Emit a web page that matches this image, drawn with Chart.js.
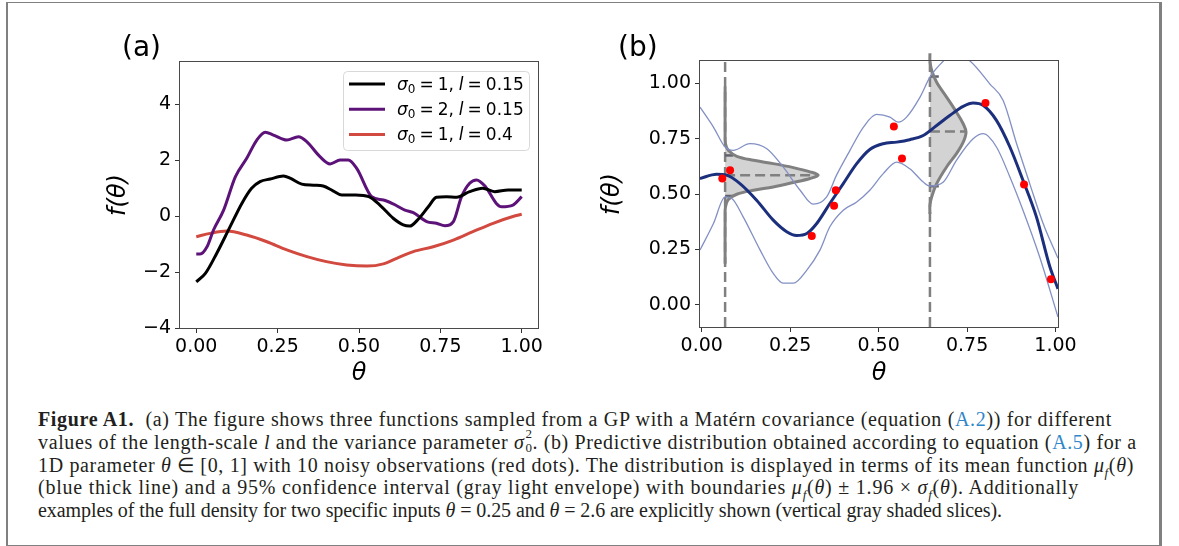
<!DOCTYPE html>
<html>
<head>
<meta charset="utf-8">
<script src="https://cdn.jsdelivr.net/npm/chart.js@4.4.1/dist/chart.umd.min.js"></script>
<style>
  body { margin: 0; background: #fff; }
  #page { position: relative; width: 1179px; height: 546px; overflow: hidden; font-family: "DejaVu Sans", sans-serif; }
  #frame { position: absolute; left: 6px; top: 2px; width: 1156px; height: 544px; box-sizing: border-box;
           border: 1px solid #808080; border-left-width: 2px; border-right-width: 3px; }
  canvas { position: absolute; top: 0; }
  #chartA { left: 60px; }
  #chartB { left: 580px; }
  .panel { position: absolute; top: 33px; font-size: 28px; line-height: 28px; color: #000; }
  #caption { position: absolute; left: 38px; top: 408px; font-family: "Liberation Serif", serif; font-size: 20px;
             color: #231f20; white-space: nowrap; }
  #caption .ln { height: 22.8px; line-height: 22.8px; display: table; }
  #caption .ref { color: #2f86c9; }
  #caption sub { font-size: 13px; line-height: 0; }
  #caption .ss { display: inline-block; position: relative; width: 8px; height: 16px; vertical-align: -3px; font-size: 13px; }
  #caption .ss .up { position: absolute; left: 1px; top: -9px; line-height: 13px; }
  #caption .ss .dn { position: absolute; left: 1px; top: 5px; line-height: 13px; }
</style>
</head>
<body>
<div id="page">
  <div id="frame"></div>
  <canvas id="chartA" width="520" height="395"></canvas>
  <canvas id="chartB" width="520" height="395"></canvas>
  <div class="panel" style="left:122px">(a)</div>
  <div class="panel" style="left:618px">(b)</div>
  <div id="caption">
    <div class="ln"><b>Figure A1.</b>&nbsp;&nbsp;(a) The figure shows three functions sampled from a GP with a Matérn covariance (equation (<span class="ref">A.2</span>)) for different</div>
    <div class="ln">values of the length-scale <i>l</i> and the variance parameter <i>σ</i><span class="ss"><span class="up">2</span><span class="dn">0</span></span>. (b) Predictive distribution obtained according to equation (<span class="ref">A.5</span>) for a</div>
    <div class="ln">1D parameter <i>θ</i> ∈ [0, 1] with 10 noisy observations (red dots). The distribution is displayed in terms of its mean function <i>μ<sub>f</sub></i>(<i>θ</i>)</div>
    <div class="ln">(blue thick line) and a 95% confidence interval (gray light envelope) with boundaries <i>μ<sub>f</sub></i>(<i>θ</i>) ± 1.96 × <i>σ<sub>f</sub></i>(<i>θ</i>). Additionally</div>
    <div class="ln">examples of the full density for two specific inputs <i>θ</i> = 0.25 and <i>θ</i> = 2.6 are explicitly shown (vertical gray shaded slices).</div>
  </div>
</div>
<script>
// ---- panel (a): three GP samples ----
const sigmaA = [1, 2, 1];
const lengthA = ['0.15', '0.15', '0.4'];
const colorsA = ['#000000', '#5c1278', '#d2493f'];

const blackX = [0.0, 0.028, 0.063, 0.104, 0.14, 0.17, 0.196, 0.227, 0.268, 0.29, 0.324, 0.36, 0.39, 0.42, 0.447, 0.49, 0.53, 0.564, 0.605, 0.636, 0.656, 0.68, 0.713, 0.738, 0.769, 0.8, 0.84, 0.88, 0.917, 0.958, 1.0];
const blackY = [-2.35, -2.05, -1.33, -0.38, 0.45, 0.99, 1.23, 1.32, 1.43, 1.34, 1.14, 1.1, 1.07, 0.9, 0.75, 0.75, 0.69, 0.39, -0.08, -0.32, -0.36, -0.14, 0.33, 0.67, 0.69, 0.67, 0.87, 0.99, 0.87, 0.93, 0.93];

const purpleX = [0.0, 0.012, 0.033, 0.053, 0.084, 0.12, 0.155, 0.186, 0.212, 0.237, 0.278, 0.314, 0.34, 0.38, 0.411, 0.442, 0.467, 0.493, 0.539, 0.575, 0.605, 0.641, 0.667, 0.708, 0.738, 0.764, 0.79, 0.815, 0.84, 0.861, 0.887, 0.922, 0.938, 0.973, 1.0];
const purpleY = [-1.36, -1.36, -1.1, -0.5, 0.21, 1.4, 2.06, 2.71, 2.99, 2.89, 2.71, 2.83, 2.65, 2.12, 1.86, 2.0, 2.0, 1.7, 0.69, 0.57, 0.43, 0.21, 0.12, -0.2, -0.26, -0.35, -0.2, 0.69, 1.17, 1.29, 1.07, 0.45, 0.33, 0.39, 0.69];

const redX = [0.0, 0.043, 0.094, 0.155, 0.217, 0.278, 0.34, 0.4, 0.462, 0.524, 0.575, 0.616, 0.667, 0.728, 0.79, 0.85, 0.912, 0.973, 1.0];
const redY = [-0.74, -0.62, -0.54, -0.68, -0.92, -1.21, -1.45, -1.63, -1.75, -1.79, -1.71, -1.51, -1.27, -1.1, -0.86, -0.56, -0.26, -0.02, 0.06];

const xTicksA = [0, 0.25, 0.5, 0.75, 1];
const xTickLabelsA = ['0.00', '0.25', '0.50', '0.75', '1.00'];
const yTicksA = [-4, -2, 0, 2, 4];
const yTickLabelsA = ['\u22124', '\u22122', '0', '2', '4'];

// ---- panel (b): GP posterior ----
const meanX = [-0.005, 0.042, 0.07, 0.108, 0.155, 0.202, 0.24, 0.268, 0.297, 0.325, 0.362, 0.4, 0.438, 0.475, 0.513, 0.551, 0.588, 0.626, 0.664, 0.701, 0.739, 0.767, 0.796, 0.833, 0.871, 0.908, 0.946, 0.984, 1.007];
const meanY = [0.57, 0.589, 0.585, 0.547, 0.472, 0.382, 0.33, 0.313, 0.322, 0.367, 0.457, 0.547, 0.637, 0.701, 0.727, 0.734, 0.745, 0.764, 0.809, 0.854, 0.895, 0.91, 0.899, 0.832, 0.712, 0.562, 0.397, 0.172, 0.072];

const upperX = [-0.005, 0.033, 0.066, 0.089, 0.136, 0.184, 0.23, 0.278, 0.315, 0.353, 0.381, 0.419, 0.457, 0.494, 0.532, 0.555, 0.579, 0.617, 0.645, 0.683, 0.711, 0.758, 0.814, 0.852, 0.89, 0.927, 0.965, 1.007];
const upperY = [0.892, 0.802, 0.712, 0.697, 0.727, 0.704, 0.622, 0.517, 0.454, 0.487, 0.585, 0.697, 0.802, 0.859, 0.847, 0.824, 0.847, 0.937, 1.027, 1.1, 1.133, 1.1, 0.997, 0.922, 0.727, 0.547, 0.367, 0.21];

const lowerX = [-0.005, 0.033, 0.066, 0.085, 0.117, 0.165, 0.202, 0.23, 0.259, 0.297, 0.334, 0.362, 0.4, 0.438, 0.475, 0.513, 0.551, 0.588, 0.626, 0.645, 0.683, 0.72, 0.767, 0.796, 0.833, 0.871, 0.908, 0.955, 1.007];
const lowerY = [0.247, 0.367, 0.487, 0.48, 0.397, 0.247, 0.142, 0.098, 0.098, 0.157, 0.247, 0.352, 0.427, 0.464, 0.517, 0.592, 0.644, 0.614, 0.554, 0.536, 0.554, 0.652, 0.749, 0.772, 0.712, 0.577, 0.427, 0.217, -0.055];

const obsX = [0.058, 0.08, 0.311, 0.374, 0.379, 0.543, 0.566, 0.802, 0.911, 0.987];
const obsY = [0.57, 0.607, 0.31, 0.447, 0.517, 0.805, 0.66, 0.91, 0.543, 0.115];

// density slices (drawn sideways from the vertical dashed lines)
const sliceX = [0.066, 0.645];
const sliceMean = [0.585, 0.782];
const slicePeakX = [0.329, 0.747];
const sliceBand = [[0.674, 0.491], [1.03, 0.535]];

const densLeftX = [0.066, 0.066, 0.067, 0.075, 0.099, 0.146, 0.202, 0.259, 0.306, 0.329, 0.306, 0.259, 0.202, 0.146, 0.099, 0.075, 0.067, 0.066, 0.066];
const densLeftY = [0.185, 0.40, 0.442, 0.475, 0.499, 0.517, 0.532, 0.552, 0.570, 0.585, 0.600, 0.619, 0.637, 0.652, 0.670, 0.697, 0.727, 0.78, 0.985];
const densRightX = [0.645, 0.645, 0.65, 0.664, 0.692, 0.72, 0.739, 0.747, 0.739, 0.72, 0.692, 0.664, 0.65, 0.645, 0.645];
const densRightY = [0.41, 0.45, 0.487, 0.547, 0.622, 0.682, 0.734, 0.779, 0.817, 0.869, 0.937, 1.004, 1.057, 1.10, 1.135];

const xTicksB = [0, 0.25, 0.5, 0.75, 1];
const xTickLabelsB = ['0.00', '0.25', '0.50', '0.75', '1.00'];
const yTicksB = [0, 0.25, 0.5, 0.75, 1];
const yTickLabelsB = ['0.00', '0.25', '0.50', '0.75', '1.00'];

// caption line widths measured on the reference
const captionWidths = [1074, 1100, 1096, 1041, 964];
document.querySelectorAll('#caption .ln').forEach((ln, i) => {
  const natural = ln.getBoundingClientRect().width;
  const n = ln.textContent.length;
  ln.style.letterSpacing = ((captionWidths[i] - natural) / n).toFixed(3) + 'px';
});

const pts = (xs, ys) => xs.map((x, i) => ({x: x, y: ys[i]}));

const tickFont = {family: 'DejaVu Sans', size: 19};
const titleFont = {family: 'DejaVu Sans', size: 24, style: 'italic'};

// box around plot area like matplotlib spines
const frameBox = {
  id: 'frameBox',
  afterDatasetsDraw(chart) {
    const {ctx, chartArea: a} = chart;
    ctx.save();
    ctx.strokeStyle = '#4a4a4a';
    ctx.lineWidth = 1;
    ctx.strokeRect(Math.round(a.left) - 0.5, Math.round(a.top) - 0.5, Math.round(a.right - a.left) + 1, Math.round(a.bottom - a.top) + 1);
    ctx.restore();
  }
};

// legend of panel (a), with mathtext-like labels
const legendA = {
  id: 'legendA',
  afterDatasetsDraw(chart) {
    const {ctx, chartArea: a} = chart;
    const w = 186, h = 79;
    const x0 = Math.round(a.right) - 9 - w, y0 = Math.round(a.top) + 9;
    ctx.save();
    ctx.fillStyle = 'rgba(255,255,255,0.85)';
    ctx.strokeStyle = '#d8d8d8';
    ctx.lineWidth = 1;
    ctx.beginPath();
    ctx.roundRect(x0 + 0.5, y0 + 0.5, w, h, 4);
    ctx.fill();
    ctx.stroke();
    ctx.textBaseline = 'alphabetic';
    chart.data.datasets.forEach((ds, i) => {
      const y = y0 + 13 + i * 25.2;
      ctx.strokeStyle = ds.borderColor;
      ctx.lineWidth = 3;
      ctx.beginPath();
      ctx.moveTo(x0 + 6, y);
      ctx.lineTo(x0 + 42, y);
      ctx.stroke();
      ctx.fillStyle = '#000';
      const parts = [
        ['σ', 'italic 17px "DejaVu Sans"', 0, 0],
        ['0', '12px "DejaVu Sans"', 3, 0],
        ['=', '17px "DejaVu Sans"', 0, 4],
        [sigmaA[i] + ',', '17px "DejaVu Sans"', 0, 4],
        ['l', 'italic 17px "DejaVu Sans"', 0, 5],
        ['=', '17px "DejaVu Sans"', 0, 4],
        [lengthA[i], '17px "DejaVu Sans"', 0, 4]
      ];
      let x = x0 + 54;
      const base = y + 6;
      parts.forEach(([t, f, dy, gap]) => {
        x += gap;
        ctx.font = f;
        ctx.fillText(t, x, base + dy);
        x += ctx.measureText(t).width;
      });
    });
    ctx.restore();
  }
};

function axisX(min, max, ticks, labels, h, titlePad) {
  return {
    type: 'linear', min: min, max: max,
    afterBuildTicks: s => { s.ticks = ticks.map(v => ({value: v})); },
    afterFit: s => { s.height = h; },
    ticks: {autoSkip: false, maxRotation: 0, font: tickFont, color: '#000', padding: 3,
            callback: (v, i) => labels[i]},
    grid: {drawOnChartArea: false, drawTicks: true, tickLength: 5, tickColor: '#333'},
    border: {display: false},
    title: {display: true, text: 'θ', font: titleFont, color: '#000', padding: {top: 0, bottom: titlePad}}
  };
}
function axisY(min, max, ticks, labels, titlePad) {
  return {
    type: 'linear', min: min, max: max,
    afterBuildTicks: s => { s.ticks = ticks.map(v => ({value: v})); },
    afterFit: s => { s.width = 120; },
    ticks: {autoSkip: false, font: tickFont, color: '#000', padding: 4,
            callback: (v, i) => labels[i]},
    grid: {drawOnChartArea: false, drawTicks: true, tickLength: 5, tickColor: '#333'},
    border: {display: false},
    title: {display: true, text: 'f(θ)', font: titleFont, color: '#000', padding: {top: titlePad, bottom: 0}}
  };
}

const lineStyle = (color, width) => ({showLine: true, borderColor: color, backgroundColor: color, borderWidth: width,
                                      pointRadius: 0, cubicInterpolationMode: 'monotone', fill: false});

new Chart(document.getElementById('chartA'), {
  type: 'scatter',
  data: {
    datasets: [
      Object.assign({label: 'a1', data: pts(blackX, blackY)}, lineStyle(colorsA[0], 3)),
      Object.assign({label: 'a2', data: pts(purpleX, purpleY)}, lineStyle(colorsA[1], 3)),
      Object.assign({label: 'a3', data: pts(redX, redY)}, lineStyle(colorsA[2], 3))
    ]
  },
  options: {
    responsive: false, animation: false, events: [],
    layout: {padding: {left: 0, top: 62, right: 42, bottom: 0}},
    plugins: {legend: {display: false}, tooltip: {enabled: false}},
    scales: {
      x: axisX(-0.05, 1.05, xTicksA, xTickLabelsA, 67, 7),
      y: axisY(-4, 5.5, yTicksA, yTickLabelsA, 44)
    }
  },
  plugins: [frameBox, legendA]
});

const gray = '#808080';
const dash = [10, 5];
const seg = (x1, y1, x2, y2) => [{x: x1, y: y1}, {x: x2, y: y2}];

new Chart(document.getElementById('chartB'), {
  type: 'scatter',
  data: {
    datasets: [
      {label: 'obs', data: pts(obsX, obsY), pointRadius: 4, pointBorderWidth: 0, backgroundColor: '#ff0000', borderColor: '#ff0000'},
      Object.assign({label: 'mean', data: pts(meanX, meanY)}, lineStyle('#1b2f7c', 3)),
      Object.assign({label: 'upper', data: pts(upperX, upperY)}, lineStyle('#8290c4', 1.3)),
      Object.assign({label: 'lower', data: pts(lowerX, lowerY)}, lineStyle('#8290c4', 1.3)),
      {label: 'densL', data: pts(densLeftX, densLeftY), showLine: true, pointRadius: 0, tension: 0.35,
       borderColor: gray, borderWidth: 3, backgroundColor: '#d3d3d3', fill: 'shape'},
      {label: 'densR', data: pts(densRightX, densRightY), showLine: true, pointRadius: 0, tension: 0.35,
       borderColor: gray, borderWidth: 3, backgroundColor: '#d3d3d3', fill: 'shape',
       clip: {left: 0, top: 9, right: 0, bottom: 0}},
      {label: 'bandL1', data: seg(sliceX[0], sliceBand[0][0], sliceX[0] + 0.023, sliceBand[0][0]), showLine: true, pointRadius: 0, borderColor: '#62626e', borderWidth: 2.5},
      {label: 'bandL2', data: seg(sliceX[0], sliceBand[0][1], sliceX[0] + 0.023, sliceBand[0][1]), showLine: true, pointRadius: 0, borderColor: '#62626e', borderWidth: 2.5},
      {label: 'bandR1', data: seg(sliceX[1], sliceBand[1][0], sliceX[1] + 0.025, sliceBand[1][0]), showLine: true, pointRadius: 0, borderColor: '#62626e', borderWidth: 2.5},
      {label: 'bandR2', data: seg(sliceX[1], sliceBand[1][1], sliceX[1] + 0.025, sliceBand[1][1]), showLine: true, pointRadius: 0, borderColor: '#62626e', borderWidth: 2.5},
      {label: 'midL', data: seg(sliceX[0], sliceMean[0], slicePeakX[0], sliceMean[0]), showLine: true, pointRadius: 0, borderColor: gray, borderWidth: 2.5, borderDash: dash},
      {label: 'midR', data: seg(sliceX[1], sliceMean[1], slicePeakX[1], sliceMean[1]), showLine: true, pointRadius: 0, borderColor: gray, borderWidth: 2.5, borderDash: dash},
      {label: 'vL', data: seg(sliceX[0], -0.1, sliceX[0], 1.1), showLine: true, pointRadius: 0, borderColor: gray, borderWidth: 2.5, borderDash: dash},
      {label: 'vR', data: seg(sliceX[1], -0.1, sliceX[1], 1.1), showLine: true, pointRadius: 0, borderColor: gray, borderWidth: 2.5, borderDash: dash}
    ]
  },
  options: {
    responsive: false, animation: false, events: [],
    layout: {padding: {left: 0, top: 61, right: 42, bottom: 0}},
    plugins: {legend: {display: false}, tooltip: {enabled: false}, filler: {drawTime: 'beforeDatasetsDraw'}},
    scales: {
      x: axisX(-0.005, 1.007, xTicksB, xTickLabelsB, 68, 7),
      y: axisY(-0.1, 1.1, yTicksB, yTickLabelsB, 18)
    }
  },
  plugins: [frameBox]
});
</script>
</body>
</html>
